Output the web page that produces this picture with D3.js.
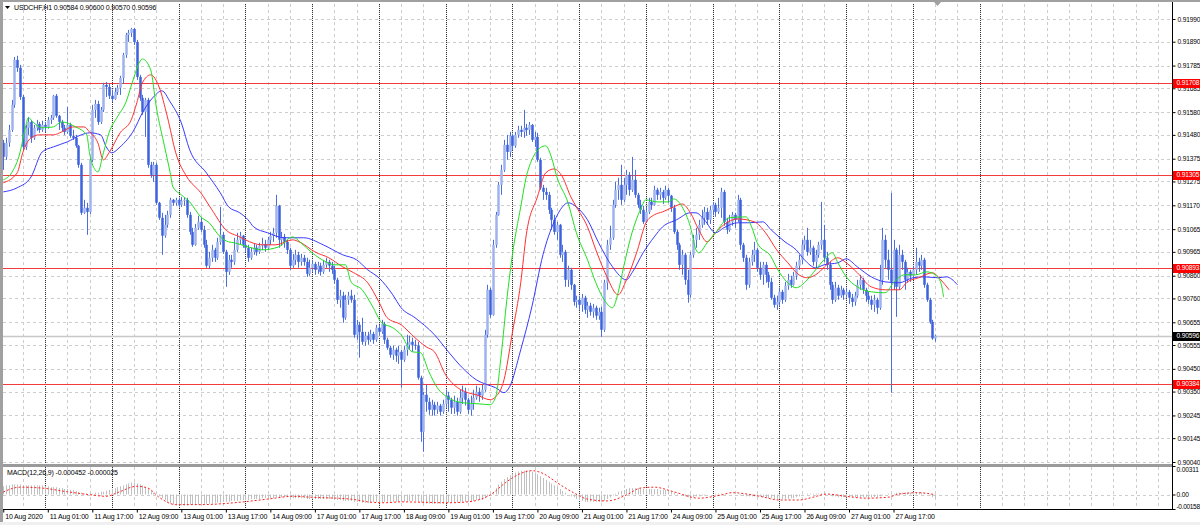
<!DOCTYPE html>
<html><head><meta charset="utf-8">
<script src="https://cdn.jsdelivr.net/npm/d3@7"></script>
<style>
html,body{margin:0;padding:0;background:#fff;}
svg{display:block;font-family:"Liberation Sans",Arial,sans-serif;}
</style></head><body>
<svg id="chart" width="1200" height="525"></svg>
<script>
const symbolTitle = "USDCHF,H1";
const lastOHLC = ["0.90584","0.90600","0.90570","0.90596"];
const macdTitle = "MACD(12,26,9) -0.000452 -0.000025";

const opens = [0.91445,0.91383,0.91445,0.91502,0.91612,0.91810,0.91775,0.91647,0.91427,0.91511,
0.91537,0.91467,0.91511,0.91528,0.91502,0.91524,0.91515,0.91546,0.91555,0.91652,
0.91564,0.91537,0.91511,0.91493,0.91524,0.91476,0.91467,0.91432,0.91348,0.91137,
0.91159,0.91141,0.91370,0.91590,0.91616,0.91537,0.91590,0.91700,0.91691,0.91652,
0.91638,0.91669,0.91687,0.91731,0.91832,0.91920,0.91929,0.91946,0.91889,0.91735,
0.91643,0.91581,0.91634,0.91348,0.91304,0.91348,0.91181,0.91115,0.91036,0.91084,
0.91128,0.91194,0.91181,0.91194,0.91172,0.91190,0.91194,0.91128,0.91053,0.90996,
0.91071,0.91097,0.91062,0.90996,0.90904,0.90939,0.90974,0.90939,0.91009,0.91040,
0.90965,0.90877,0.90930,0.90921,0.90974,0.91018,0.91036,0.90996,0.90983,0.90939,
0.90965,0.90983,0.90965,0.90992,0.91000,0.90983,0.91018,0.91036,0.91049,0.91168,
0.91018,0.91031,0.91009,0.90974,0.90904,0.90930,0.90952,0.90921,0.90939,0.90921,
0.90868,0.90895,0.90912,0.90886,0.90904,0.90877,0.90908,0.90921,0.90904,0.90886,
0.90842,0.90754,0.90772,0.90675,0.90754,0.90772,0.90754,0.90600,0.90644,0.90613,
0.90569,0.90596,0.90578,0.90604,0.90578,0.90631,0.90613,0.90648,0.90578,0.90543,
0.90512,0.90534,0.90508,0.90525,0.90490,0.90534,0.90556,0.90569,0.90556,0.90552,
0.90411,0.90173,0.90336,0.90305,0.90270,0.90292,0.90270,0.90288,0.90261,0.90296,
0.90332,0.90314,0.90279,0.90305,0.90261,0.90323,0.90349,0.90314,0.90270,0.90296,
0.90323,0.90349,0.90332,0.90358,0.90600,0.90798,0.90688,0.90996,0.91128,0.91260,
0.91326,0.91436,0.91405,0.91476,0.91432,0.91480,0.91502,0.91493,0.91511,0.91502,
0.91524,0.91458,0.91471,0.91370,0.91247,0.91229,0.91216,0.91150,0.91106,0.91053,
0.91084,0.90952,0.90965,0.90842,0.90886,0.90820,0.90745,0.90754,0.90732,0.90763,
0.90710,0.90728,0.90701,0.90719,0.90684,0.90701,0.90622,0.90829,0.90996,0.91027,
0.91172,0.91238,0.91260,0.91194,0.91260,0.91304,0.91238,0.91282,0.91216,0.91172,
0.91150,0.91097,0.91141,0.91185,0.91172,0.91238,0.91216,0.91229,0.91203,0.91238,
0.91212,0.91159,0.91053,0.90996,0.90908,0.90952,0.90842,0.90776,0.90952,0.91018,
0.91040,0.91084,0.91115,0.91141,0.91106,0.91150,0.91172,0.91141,0.91159,0.91229,
0.91097,0.91062,0.91097,0.91128,0.91106,0.91194,0.90996,0.90939,0.90820,0.90921,
0.90952,0.90974,0.90895,0.90864,0.90908,0.90864,0.90833,0.90763,0.90732,0.90745,
0.90789,0.90754,0.90816,0.90842,0.90820,0.90860,0.90904,0.90930,0.90996,0.91018,
0.90965,0.90983,0.90921,0.90952,0.90996,0.91018,0.90939,0.90908,0.90820,0.90754,
0.90807,0.90772,0.90798,0.90776,0.90789,0.90763,0.90745,0.90772,0.90820,0.90842,
0.90798,0.90772,0.90754,0.90732,0.90754,0.90719,0.90842,0.91018,0.90930,0.90886,
0.90833,0.90974,0.90811,0.90952,0.90921,0.90842,0.90877,0.90860,0.90886,0.90921,
0.90904,0.90930,0.90820,0.90754,0.90657,0.90584];

const highs = [0.91458,0.91467,0.91524,0.91634,0.91823,0.91828,0.91788,0.91656,0.91524,0.91559,
0.91546,0.91524,0.91546,0.91537,0.91542,0.91537,0.91559,0.91568,0.91656,0.91660,
0.91568,0.91546,0.91524,0.91603,0.91533,0.91502,0.91480,0.91436,0.91357,0.91194,
0.91181,0.91379,0.91612,0.91634,0.91630,0.91603,0.91709,0.91713,0.91704,0.91678,
0.91687,0.91700,0.91740,0.91841,0.91929,0.91942,0.91951,0.91951,0.91898,0.91744,
0.91656,0.91643,0.91643,0.91361,0.91361,0.91357,0.91185,0.91137,0.91128,0.91146,
0.91203,0.91198,0.91203,0.91203,0.91207,0.91203,0.91203,0.91141,0.91071,0.91088,
0.91124,0.91115,0.91080,0.91018,0.90965,0.90996,0.90983,0.91027,0.91163,0.91053,
0.90974,0.90952,0.90952,0.91027,0.91049,0.91053,0.91040,0.91018,0.90996,0.90983,
0.91000,0.90996,0.91005,0.91027,0.91018,0.91031,0.91053,0.91071,0.91216,0.91172,
0.91053,0.91044,0.91018,0.90983,0.90956,0.90974,0.90965,0.90956,0.90952,0.90939,
0.90930,0.90930,0.90921,0.90921,0.90917,0.90930,0.90939,0.90930,0.90921,0.90904,
0.90851,0.90798,0.90789,0.90776,0.90789,0.90798,0.90776,0.90666,0.90657,0.90675,
0.90613,0.90613,0.90622,0.90613,0.90644,0.90644,0.90666,0.90657,0.90587,0.90552,
0.90552,0.90543,0.90552,0.90534,0.90552,0.90600,0.90596,0.90587,0.90578,0.90569,
0.90420,0.90349,0.90380,0.90323,0.90314,0.90305,0.90305,0.90296,0.90314,0.90358,
0.90349,0.90323,0.90332,0.90323,0.90358,0.90376,0.90367,0.90323,0.90332,0.90358,
0.90376,0.90367,0.90380,0.90622,0.90820,0.90807,0.91018,0.91141,0.91273,0.91348,
0.91458,0.91480,0.91493,0.91485,0.91493,0.91520,0.91520,0.91590,0.91528,0.91537,
0.91528,0.91493,0.91489,0.91379,0.91260,0.91247,0.91229,0.91159,0.91128,0.91097,
0.91088,0.90996,0.90974,0.90904,0.90895,0.90824,0.90772,0.90772,0.90780,0.90772,
0.90745,0.90741,0.90736,0.90728,0.90719,0.90723,0.90842,0.91018,0.91080,0.91194,
0.91273,0.91291,0.91348,0.91291,0.91326,0.91317,0.91383,0.91326,0.91225,0.91194,
0.91168,0.91163,0.91203,0.91203,0.91256,0.91247,0.91247,0.91238,0.91256,0.91247,
0.91216,0.91172,0.91062,0.91005,0.90974,0.90961,0.90886,0.90965,0.91040,0.91071,
0.91106,0.91150,0.91163,0.91159,0.91168,0.91185,0.91181,0.91203,0.91247,0.91238,
0.91115,0.91128,0.91141,0.91137,0.91216,0.91203,0.91005,0.90952,0.90939,0.90974,
0.91009,0.90983,0.90921,0.90921,0.90921,0.90877,0.90851,0.90776,0.90772,0.90807,
0.90798,0.90833,0.90868,0.90860,0.90877,0.90921,0.90952,0.91018,0.91036,0.91071,
0.91018,0.90992,0.90974,0.91009,0.91185,0.91084,0.90965,0.90921,0.90833,0.90833,
0.90820,0.90816,0.90807,0.90807,0.90798,0.90780,0.90789,0.90842,0.90864,0.90851,
0.90807,0.90789,0.90772,0.90776,0.90763,0.90908,0.91071,0.91040,0.90974,0.91225,
0.91018,0.90983,0.90996,0.90974,0.90930,0.90895,0.90886,0.90904,0.90983,0.90939,
0.90952,0.90939,0.90829,0.90763,0.90666,0.90600];

const lows = [0.91326,0.91370,0.91427,0.91493,0.91599,0.91757,0.91634,0.91414,0.91414,0.91480,
0.91445,0.91458,0.91498,0.91489,0.91493,0.91493,0.91507,0.91528,0.91546,0.91555,
0.91502,0.91493,0.91480,0.91485,0.91467,0.91458,0.91423,0.91335,0.91128,0.91132,
0.91040,0.91132,0.91361,0.91555,0.91524,0.91528,0.91581,0.91647,0.91638,0.91625,
0.91634,0.91656,0.91656,0.91704,0.91819,0.91889,0.91911,0.91876,0.91722,0.91630,
0.91568,0.91471,0.91335,0.91291,0.91273,0.91172,0.91106,0.90952,0.91027,0.91071,
0.91115,0.91168,0.91168,0.91159,0.91163,0.91168,0.91115,0.91040,0.90987,0.90992,
0.91062,0.91053,0.90983,0.90895,0.90891,0.90921,0.90921,0.90930,0.90996,0.90956,
0.90811,0.90864,0.90895,0.90908,0.90965,0.90996,0.90983,0.90965,0.90921,0.90930,
0.90952,0.90948,0.90956,0.90974,0.90965,0.90974,0.90996,0.91009,0.91027,0.90983,
0.90992,0.90983,0.90956,0.90886,0.90895,0.90908,0.90895,0.90904,0.90904,0.90855,
0.90860,0.90877,0.90864,0.90868,0.90860,0.90868,0.90895,0.90877,0.90868,0.90824,
0.90736,0.90719,0.90653,0.90666,0.90732,0.90741,0.90587,0.90578,0.90499,0.90556,
0.90552,0.90556,0.90569,0.90560,0.90569,0.90596,0.90604,0.90560,0.90534,0.90499,
0.90490,0.90481,0.90472,0.90367,0.90481,0.90508,0.90534,0.90525,0.90534,0.90402,
0.90129,0.90085,0.90261,0.90248,0.90244,0.90244,0.90252,0.90244,0.90252,0.90279,
0.90261,0.90252,0.90252,0.90244,0.90252,0.90296,0.90288,0.90252,0.90244,0.90270,
0.90314,0.90305,0.90314,0.90349,0.90587,0.90675,0.90684,0.90983,0.91124,0.91216,
0.91317,0.91370,0.91383,0.91414,0.91423,0.91467,0.91471,0.91467,0.91476,0.91480,
0.91449,0.91427,0.91361,0.91238,0.91194,0.91194,0.91132,0.91062,0.91040,0.91018,
0.90939,0.90921,0.90811,0.90811,0.90798,0.90728,0.90719,0.90710,0.90701,0.90692,
0.90675,0.90684,0.90675,0.90666,0.90666,0.90591,0.90613,0.90798,0.90974,0.91018,
0.91159,0.91194,0.91172,0.91185,0.91216,0.91212,0.91229,0.91203,0.91159,0.91132,
0.91088,0.91093,0.91132,0.91150,0.91168,0.91194,0.91194,0.91176,0.91194,0.91181,
0.91141,0.91044,0.90974,0.90886,0.90864,0.90820,0.90741,0.90763,0.90939,0.90983,
0.91018,0.91071,0.91084,0.91084,0.91088,0.91128,0.91119,0.91132,0.91115,0.91080,
0.91044,0.91053,0.91080,0.91071,0.91097,0.90974,0.90921,0.90798,0.90807,0.90904,
0.90921,0.90877,0.90842,0.90820,0.90829,0.90807,0.90754,0.90719,0.90710,0.90728,
0.90736,0.90745,0.90798,0.90807,0.90816,0.90842,0.90886,0.90912,0.90974,0.90948,
0.90952,0.90904,0.90895,0.90939,0.90974,0.90921,0.90886,0.90798,0.90736,0.90745,
0.90754,0.90763,0.90754,0.90763,0.90736,0.90723,0.90728,0.90763,0.90798,0.90780,
0.90745,0.90736,0.90710,0.90701,0.90692,0.90710,0.90820,0.90895,0.90842,0.90345,
0.90798,0.90679,0.90798,0.90886,0.90798,0.90829,0.90833,0.90842,0.90864,0.90877,
0.90886,0.90807,0.90745,0.90648,0.90578,0.90570];

const closes = [0.91383,0.91445,0.91502,0.91612,0.91810,0.91775,0.91647,0.91427,0.91511,0.91537,
0.91467,0.91511,0.91528,0.91502,0.91524,0.91515,0.91546,0.91555,0.91652,0.91564,
0.91537,0.91511,0.91493,0.91524,0.91476,0.91467,0.91432,0.91348,0.91137,0.91159,
0.91141,0.91370,0.91590,0.91616,0.91537,0.91590,0.91700,0.91691,0.91652,0.91638,
0.91669,0.91687,0.91731,0.91832,0.91920,0.91929,0.91946,0.91889,0.91735,0.91643,
0.91581,0.91634,0.91348,0.91304,0.91348,0.91181,0.91115,0.91036,0.91084,0.91128,
0.91194,0.91181,0.91194,0.91172,0.91190,0.91194,0.91128,0.91053,0.90996,0.91071,
0.91097,0.91062,0.90996,0.90904,0.90939,0.90974,0.90939,0.91009,0.91040,0.90965,
0.90877,0.90930,0.90921,0.90974,0.91018,0.91036,0.90996,0.90983,0.90939,0.90965,
0.90983,0.90965,0.90992,0.91000,0.90983,0.91018,0.91036,0.91049,0.91168,0.91018,
0.91031,0.91009,0.90974,0.90904,0.90930,0.90952,0.90921,0.90939,0.90921,0.90868,
0.90895,0.90912,0.90886,0.90904,0.90877,0.90908,0.90921,0.90904,0.90886,0.90842,
0.90754,0.90772,0.90675,0.90754,0.90772,0.90754,0.90600,0.90644,0.90613,0.90569,
0.90596,0.90578,0.90604,0.90578,0.90631,0.90613,0.90648,0.90578,0.90543,0.90512,
0.90534,0.90508,0.90525,0.90490,0.90534,0.90556,0.90569,0.90556,0.90552,0.90411,
0.90173,0.90336,0.90305,0.90270,0.90292,0.90270,0.90288,0.90261,0.90296,0.90332,
0.90314,0.90279,0.90305,0.90261,0.90323,0.90349,0.90314,0.90270,0.90296,0.90323,
0.90349,0.90332,0.90358,0.90600,0.90798,0.90688,0.90996,0.91128,0.91260,0.91326,
0.91436,0.91405,0.91476,0.91432,0.91480,0.91502,0.91493,0.91511,0.91502,0.91524,
0.91458,0.91471,0.91370,0.91247,0.91229,0.91216,0.91150,0.91106,0.91053,0.91084,
0.90952,0.90965,0.90842,0.90886,0.90820,0.90745,0.90754,0.90732,0.90763,0.90710,
0.90728,0.90701,0.90719,0.90684,0.90701,0.90622,0.90829,0.90996,0.91027,0.91172,
0.91238,0.91260,0.91194,0.91260,0.91304,0.91238,0.91282,0.91216,0.91172,0.91150,
0.91097,0.91141,0.91185,0.91172,0.91238,0.91216,0.91229,0.91203,0.91238,0.91212,
0.91159,0.91053,0.90996,0.90908,0.90952,0.90842,0.90776,0.90952,0.91018,0.91040,
0.91084,0.91115,0.91141,0.91106,0.91150,0.91172,0.91141,0.91159,0.91229,0.91097,
0.91062,0.91097,0.91128,0.91106,0.91194,0.90996,0.90939,0.90820,0.90921,0.90952,
0.90974,0.90895,0.90864,0.90908,0.90864,0.90833,0.90763,0.90732,0.90745,0.90789,
0.90754,0.90816,0.90842,0.90820,0.90860,0.90904,0.90930,0.90996,0.91018,0.90965,
0.90983,0.90921,0.90952,0.90996,0.91018,0.90939,0.90908,0.90820,0.90754,0.90807,
0.90772,0.90798,0.90776,0.90789,0.90763,0.90745,0.90772,0.90820,0.90842,0.90798,
0.90772,0.90754,0.90732,0.90754,0.90719,0.90842,0.91018,0.90930,0.90886,0.90833,
0.90974,0.90811,0.90952,0.90921,0.90842,0.90877,0.90860,0.90886,0.90921,0.90904,
0.90930,0.90820,0.90754,0.90657,0.90584,0.90596];

// Alligator lines (sampled: bar index, price)
const jawIdx = [0,5,10,14,18,23,28,31,35,37,39,42,47,50,54,57,60,64,67,73,78,81,85,88,90,95,101,108,115,122,127,131,135,140,143,148,155,160,165,170,174,177,180,182,186,190,194,198,201,203,206,210,214,219,224,226,230,234,237,242,247,249,252,256,259,264,268,273,276,281,285,288,292,295,300,303,307,312,317,322,327,331,336,339,343];
const jawVal = [0.91229,0.91247,0.91295,0.91405,0.91427,0.91449,0.91480,0.91489,0.91480,0.91427,0.91401,0.91427,0.91502,0.91577,0.91647,0.91674,0.91625,0.91533,0.91414,0.91313,0.91225,0.91163,0.91137,0.91106,0.91075,0.91049,0.91027,0.91027,0.90996,0.90952,0.90930,0.90886,0.90851,0.90776,0.90719,0.90675,0.90600,0.90525,0.90455,0.90402,0.90380,0.90367,0.90345,0.90371,0.90534,0.90723,0.90952,0.91097,0.91163,0.91181,0.91163,0.91106,0.91005,0.90899,0.90842,0.90873,0.90961,0.91031,0.91075,0.91106,0.91137,0.91137,0.91106,0.91049,0.91071,0.91093,0.91093,0.91097,0.91062,0.91009,0.90974,0.90930,0.90895,0.90908,0.90917,0.90934,0.90899,0.90855,0.90833,0.90829,0.90851,0.90855,0.90851,0.90855,0.90820];
const teethIdx = [0,5,7,10,13,18,21,25,29,31,34,36,38,42,46,48,50,53,56,59,62,66,71,75,80,85,87,93,98,104,107,112,117,122,126,131,135,138,143,148,152,155,159,162,167,170,175,177,180,183,186,188,192,195,198,201,204,206,210,213,217,221,224,228,231,234,237,241,244,247,250,253,256,259,264,270,274,278,282,286,289,293,296,300,303,307,312,317,322,325,329,334,337,340];
const teethVal = [0.91269,0.91313,0.91401,0.91467,0.91480,0.91480,0.91493,0.91515,0.91515,0.91493,0.91445,0.91370,0.91401,0.91489,0.91546,0.91621,0.91709,0.91744,0.91691,0.91559,0.91401,0.91295,0.91225,0.91150,0.91062,0.91031,0.91018,0.90996,0.90996,0.91018,0.91005,0.90965,0.90939,0.90899,0.90873,0.90829,0.90745,0.90675,0.90644,0.90587,0.90547,0.90525,0.90424,0.90380,0.90345,0.90336,0.90314,0.90327,0.90402,0.90609,0.90829,0.91040,0.91207,0.91313,0.91330,0.91295,0.91207,0.91163,0.91075,0.90974,0.90855,0.90776,0.90842,0.90974,0.91093,0.91128,0.91141,0.91163,0.91176,0.91137,0.91062,0.91009,0.91049,0.91084,0.91110,0.91097,0.91049,0.90974,0.90917,0.90864,0.90851,0.90873,0.90908,0.90939,0.90917,0.90873,0.90811,0.90798,0.90798,0.90833,0.90851,0.90873,0.90842,0.90798];
const lipsIdx = [0,3,6,8,9,11,14,18,21,26,30,31,33,34,36,38,41,44,47,49,50,53,55,58,60,61,64,67,71,74,78,81,83,88,93,99,104,107,111,116,119,123,125,129,133,136,140,143,147,150,153,156,160,165,171,175,177,179,181,183,186,188,190,193,195,197,199,203,206,210,213,216,219,221,223,226,229,231,235,239,241,244,247,249,250,253,256,261,267,269,271,276,278,282,285,289,292,295,298,300,303,307,312,317,320,324,328,332,335,337,338];
const lipsVal = [0.91282,0.91313,0.91401,0.91515,0.91555,0.91533,0.91511,0.91515,0.91537,0.91515,0.91480,0.91401,0.91326,0.91317,0.91401,0.91489,0.91559,0.91621,0.91735,0.91801,0.91814,0.91766,0.91603,0.91427,0.91313,0.91251,0.91216,0.91185,0.91119,0.91093,0.91031,0.91009,0.91005,0.90987,0.90974,0.90987,0.91031,0.91005,0.90961,0.90921,0.90908,0.90908,0.90833,0.90798,0.90719,0.90653,0.90631,0.90600,0.90525,0.90521,0.90437,0.90367,0.90323,0.90301,0.90296,0.90292,0.90327,0.90512,0.90754,0.90952,0.91163,0.91295,0.91370,0.91423,0.91432,0.91383,0.91295,0.91181,0.91049,0.90930,0.90829,0.90754,0.90719,0.90785,0.90899,0.91049,0.91150,0.91194,0.91185,0.91185,0.91198,0.91163,0.91075,0.90974,0.90961,0.91005,0.91049,0.91115,0.91119,0.91075,0.91005,0.90943,0.90895,0.90829,0.90807,0.90842,0.90886,0.90930,0.90961,0.90917,0.90855,0.90811,0.90789,0.90785,0.90829,0.90864,0.90864,0.90877,0.90864,0.90829,0.90767];

// MACD main (histogram) per bar and signal (sampled)
const macdMain = [0.0009,0.0010,0.0010,0.0011,0.0011,0.0011,0.0011,0.0010,0.0010,0.0010,
0.0010,0.0010,0.0010,0.0010,0.0010,0.0009,0.0009,0.0008,0.0008,0.0008,
0.0007,0.0007,0.0006,0.0006,0.0005,0.0005,0.0004,0.0003,0.0002,0.0001,
0,0,0.0001,0.0002,0.0002,0.0003,0.0003,0.0004,0.0005,0.0006,
0.0007,0.0008,0.0009,0.0010,0.0011,0.0012,0.0013,0.0013,0.0012,0.0011,
0.0010,0.0008,0.0006,0.0004,0.0002,0,-0.0002,-0.0004,-0.0006,-0.0008,
-0.0010,-0.0011,-0.0012,-0.0012,-0.0012,-0.0012,-0.0012,-0.0011,-0.0011,-0.0011,
-0.0011,-0.0011,-0.0010,-0.0010,-0.0010,-0.0010,-0.0009,-0.0009,-0.0009,-0.0008,
-0.0008,-0.0008,-0.0007,-0.0007,-0.0007,-0.0006,-0.0006,-0.0006,-0.0006,-0.0005,
-0.0005,-0.0005,-0.0005,-0.0004,-0.0004,-0.0004,-0.0004,-0.0004,-0.0003,-0.0003,
-0.0003,-0.0003,-0.0003,-0.0004,-0.0004,-0.0004,-0.0004,-0.0004,-0.0004,-0.0005,
-0.0005,-0.0005,-0.0005,-0.0005,-0.0005,-0.0005,-0.0005,-0.0005,-0.0005,-0.0006,
-0.0006,-0.0006,-0.0007,-0.0007,-0.0007,-0.0007,-0.0008,-0.0008,-0.0008,-0.0009,
-0.0009,-0.0009,-0.0009,-0.0008,-0.0008,-0.0008,-0.0008,-0.0008,-0.0008,-0.0008,
-0.0008,-0.0008,-0.0008,-0.0008,-0.0008,-0.0007,-0.0007,-0.0007,-0.0007,-0.0008,
-0.0009,-0.0010,-0.0010,-0.0010,-0.0010,-0.0010,-0.0010,-0.0010,-0.0010,-0.0009,
-0.0009,-0.0009,-0.0009,-0.0009,-0.0008,-0.0008,-0.0008,-0.0008,-0.0007,-0.0007,
-0.0006,-0.0006,-0.0006,-0.0004,-0.0002,0,0.0003,0.0007,0.0011,0.0014,
0.0017,0.0019,0.0021,0.0023,0.0024,0.0025,0.0026,0.0026,0.0026,0.0026,
0.0025,0.0024,0.0022,0.0020,0.0018,0.0016,0.0014,0.0012,0.0010,0.0008,
0.0006,0.0004,0.0002,0,-0.0002,-0.0003,-0.0005,-0.0006,-0.0007,-0.0008,
-0.0008,-0.0008,-0.0008,-0.0008,-0.0008,-0.0008,-0.0007,-0.0005,-0.0003,-0.0001,
0.0001,0.0003,0.0004,0.0005,0.0006,0.0007,0.0007,0.0007,0.0007,0.0007,
0.0006,0.0006,0.0006,0.0006,0.0006,0.0006,0.0005,0.0005,0.0005,0.0004,
0.0003,0.0002,0.0001,0,-0.0001,-0.0002,-0.0003,-0.0003,-0.0003,-0.0002,
-0.0002,-0.0001,-0.0001,0,0,0,0.0001,0.0001,0.0001,0,
0,0,0,0,0,-0.0001,-0.0001,-0.0002,-0.0002,-0.0002,
-0.0002,-0.0002,-0.0002,-0.0003,-0.0003,-0.0004,-0.0004,-0.0005,-0.0005,-0.0005,
-0.0005,-0.0005,-0.0005,-0.0004,-0.0004,-0.0003,-0.0002,-0.0001,0,0.0001,
0.0001,0.0001,0.0001,0.0001,0.0001,0.0001,0,-0.0001,-0.0002,-0.0002,
-0.0003,-0.0003,-0.0003,-0.0003,-0.0003,-0.0003,-0.0003,-0.0003,-0.0003,-0.0003,
-0.0003,-0.0003,-0.0003,-0.0003,-0.0003,-0.0002,-0.0001,0,0.0001,0.0001,
0.0001,0.0002,0.0002,0.0002,0.0002,0.0002,0.0002,0.0002,0.0002,0.0002,
0.0002,0.0001,0,-0.0001,-0.0003,-0.000452];
const sigIdx = [0,6,14,23,32,37,41,48,52,56,62,71,83,95,104,111,125,131,137,143,160,167,175,181,186,190,194,199,205,210,217,224,229,234,241,250,258,262,272,279,286,291,296,303,310,318,322,329,335];
const sigVal = [0.00027,0.0008,0.0007,0.0003,-0.00005,-0.0002,0.0002,0.0009,0.0007,-0.0003,-0.0011,-0.0011,-0.0009,-0.0005,-0.0002,-0.0003,-0.0005,-0.0008,-0.0009,-0.0008,-0.0009,-0.0008,-0.00005,0.0014,0.0023,0.0026,0.0023,0.0013,0.0002,-0.0005,-0.0007,-0.00005,0.0007,0.0008,0.0003,-0.0004,-0.00005,0.0002,-0.0002,-0.0006,-0.0006,-0.0003,0.00005,-0.0002,-0.0004,-0.0003,0.00005,0.0002,-0.000025];

// Axis ticks and labels
const priceTicks = [0.91990,0.91890,0.91785,0.91685,0.91580,0.91480,0.91375,0.91275,0.91170,0.91065,0.90965,0.90860,0.90760,0.90655,0.90555,0.90450,0.90350,0.90245,0.90145,0.90040];
const macdTicks = [0.00311,0,-0.00158];
const macdTickLabels = ["0.00311","0.00","-0.00158"];
const timeTickIdx = [0,16,32,48,64,80,96,112,128,144,160,176,192,208,224,240,256,272,288,304,320];
const timeTickLabels = ["10 Aug 2020","11 Aug 01:00","11 Aug 17:00","12 Aug 09:00","13 Aug 01:00","13 Aug 17:00","14 Aug 09:00","17 Aug 01:00","17 Aug 17:00","18 Aug 09:00","19 Aug 01:00","19 Aug 17:00","20 Aug 09:00","21 Aug 01:00","21 Aug 17:00","24 Aug 09:00","25 Aug 01:00","25 Aug 17:00","26 Aug 09:00","27 Aug 01:00","27 Aug 17:00"];
const levelLines = [0.91708,0.91305,0.90893,0.90384];
const levelLabels = ["0.91708","0.91305","0.90893","0.90384"];
const bidPrice = 0.90596;
const bidLabel = "0.90596";

// ---------- drawing ----------
const FONT = "Liberation Sans, Arial, sans-serif";
const svg = d3.select("#chart");
const L = 3, R = 1172, mT = 4, mB = 464, dT = 467, dB = 509;
const x = d3.scaleLinear().domain([0, 100]).range([3.27, 3.27 + 278.2]);
const y = d3.scaleLinear().domain([0.90040, 0.91990]).range([462, 19]);
const ym = d3.scaleLinear().domain([-0.00158, 0.00311]).range([dB, dT - 1]);
const maxIdx = Math.floor(x.invert(R));

function styleText(sel, size){
  return sel.attr("font-size", size || 6.6).attr("fill","#000").attr("font-family",FONT).attr("letter-spacing","-0.15px");
}

svg.append("rect").attr("width",1200).attr("height",525).attr("fill","#fff");
svg.append("rect").attr("x",0).attr("y",0).attr("width",3).attr("height",525).attr("fill","#a0a0a0");
svg.append("rect").attr("x",0).attr("y",0).attr("width",1200).attr("height",2).attr("fill","#a0a0a0");
svg.append("rect").attr("x",0).attr("y",522).attr("width",1200).attr("height",3).attr("fill","#f0f0f0");

const defs = svg.append("defs");
defs.append("clipPath").attr("id","cm").append("rect").attr("x",L).attr("y",mT).attr("width",R-L).attr("height",mB-mT);
defs.append("clipPath").attr("id","cd").append("rect").attr("x",L).attr("y",dT).attr("width",R-L).attr("height",dB-dT);

const grid = svg.append("g");
grid.selectAll("line.hg").data(priceTicks).enter().append("line")
  .attr("x1",L).attr("x2",R).attr("y1",d=>Math.round(y(d))+0.5).attr("y2",d=>Math.round(y(d))+0.5)
  .attr("stroke","#cdcdcd").attr("stroke-dasharray","3,3");
grid.append("line").attr("x1",L).attr("x2",R).attr("y1",Math.round(ym(0))+0.5).attr("y2",Math.round(ym(0))+0.5)
  .attr("stroke","#cdcdcd").attr("stroke-dasharray","3,3");
const vIdx = d3.range(7, maxIdx+1, 8);
[[mT,mB],[dT,dB]].forEach(([a,b])=>{
  grid.selectAll(null).data(vIdx).enter().append("line")
    .attr("x1",d=>Math.round(x(d))+0.5).attr("x2",d=>Math.round(x(d))+0.5).attr("y1",a).attr("y2",b)
    .attr("stroke","#cdcdcd").attr("stroke-dasharray","3,3");
});
const sepIdx = d3.range(15, 352, 24);
[[mT,mB],[dT,dB]].forEach(([a,b])=>{
  grid.selectAll(null).data(sepIdx).enter().append("line")
    .attr("x1",d=>Math.round(x(d))+0.5).attr("x2",d=>Math.round(x(d))+0.5).attr("y1",a).attr("y2",b)
    .attr("stroke","#333").attr("stroke-dasharray","1,1");
});

const main = svg.append("g").attr("clip-path","url(#cm)");
main.append("line").attr("x1",L).attr("x2",R).attr("y1",Math.round(y(bidPrice))+0.5).attr("y2",Math.round(y(bidPrice))+0.5)
  .attr("stroke","#c8c8c8").attr("stroke-width",1.5);
main.selectAll("line.lv").data(levelLines).enter().append("line")
  .attr("x1",L).attr("x2",R).attr("y1",d=>Math.round(y(d))+0.5).attr("y2",d=>Math.round(y(d))+0.5)
  .attr("stroke","#f03c3c").attr("stroke-width",1.2);

// candles
const bars = d3.range(closes.length).map(i=>({i,o:opens[i],h:highs[i],l:lows[i],c:closes[i]}));
const cg = main.append("g");
cg.selectAll("line.w").data(bars).enter().append("line")
  .attr("x1",d=>Math.round(x(d.i))+0.5).attr("x2",d=>Math.round(x(d.i))+0.5)
  .attr("y1",d=>y(d.h)).attr("y2",d=>y(d.l)).attr("stroke","#4a6ee0").attr("stroke-width",1);
cg.selectAll("rect.b").data(bars).enter().append("rect")
  .attr("x",d=>Math.round(x(d.i))-0.75).attr("width",2.5)
  .attr("y",d=>y(Math.max(d.o,d.c))).attr("height",d=>Math.max(1,Math.abs(y(d.o)-y(d.c))))
  .attr("fill",d=>d.c>=d.o?"#9fb3ee":"#3c62dc");

// alligator
const lineGen = d3.line().x(d=>x(d[0])).y(d=>y(d[1])).curve(d3.curveMonotoneX);
const jaw = jawIdx.map((v,k)=>[v,jawVal[k]]);
const teeth = teethIdx.map((v,k)=>[v,teethVal[k]]);
const lips = lipsIdx.map((v,k)=>[v,lipsVal[k]]);
main.append("path").attr("d",lineGen(jaw)).attr("fill","none").attr("stroke","#3a3aff").attr("stroke-width",1);
main.append("path").attr("d",lineGen(teeth)).attr("fill","none").attr("stroke","#ff3030").attr("stroke-width",1);
main.append("path").attr("d",lineGen(lips)).attr("fill","none").attr("stroke","#20e020").attr("stroke-width",1);

// MACD
const mg = svg.append("g").attr("clip-path","url(#cd)");
mg.selectAll("line.h").data(macdMain.map((v,i)=>[i,v])).enter().append("line")
  .attr("x1",d=>Math.round(x(d[0]))+0.5).attr("x2",d=>Math.round(x(d[0]))+0.5)
  .attr("y1",ym(0)).attr("y2",d=>ym(d[1])).attr("stroke","#c0c0c0").attr("stroke-width",1);
const sigLine = d3.line().x(d=>x(d[0])).y(d=>ym(d[1])).curve(d3.curveMonotoneX);
mg.append("path").attr("d",sigLine(sigIdx.map((v,k)=>[v,sigVal[k]]))).attr("fill","none")
  .attr("stroke","#ff2020").attr("stroke-width",1).attr("stroke-dasharray","2,2");

// frame lines
svg.append("rect").attr("x",L).attr("y",mB).attr("width",R-L).attr("height",dT-mB).attr("fill","#9a9a9a");
svg.append("line").attr("x1",R+0.5).attr("x2",R+0.5).attr("y1",2).attr("y2",dB+1).attr("stroke","#000");
svg.append("line").attr("x1",L).attr("x2",R+1).attr("y1",dB+0.5).attr("y2",dB+0.5).attr("stroke","#000");

// price axis
const pa = svg.append("g").attr("transform",`translate(${R+0.5},0)`)
  .call(d3.axisRight(y).tickValues(priceTicks).tickFormat(d3.format(".5f")).tickSize(3).tickPadding(2));
pa.select(".domain").remove();
styleText(pa.selectAll("text"));
pa.selectAll("line").attr("stroke","#000");

const ma = svg.append("g").attr("transform",`translate(${R+0.5},0)`)
  .call(d3.axisRight(ym).tickValues(macdTicks).tickFormat((d,i)=>macdTickLabels[i]).tickSize(3).tickPadding(1));
ma.select(".domain").remove();
styleText(ma.selectAll("text"));
ma.selectAll(".tick").filter((d,i)=>i===0).select("text").attr("dy","0.9em");
ma.selectAll(".tick").filter((d,i)=>i===2).select("text").attr("dy","-0.1em").attr("letter-spacing","-0.35px");
ma.selectAll("line").attr("stroke","#000");

// level labels
const lvG = svg.append("g");
levelLines.forEach((v,k)=>{
  const yy = Math.round(y(v));
  lvG.append("rect").attr("x",R+1).attr("y",yy-4).attr("width",27).attr("height",9).attr("fill","#ff0000");
  styleText(lvG.append("text").attr("x",R+4.5).attr("y",yy).attr("dy","0.35em").text(levelLabels[k])).attr("fill","#fff");
});
{
  const yy = Math.round(y(bidPrice));
  lvG.append("rect").attr("x",R+1).attr("y",yy-4).attr("width",27).attr("height",9).attr("fill","#000");
  styleText(lvG.append("text").attr("x",R+4.5).attr("y",yy).attr("dy","0.35em").text(bidLabel)).attr("fill","#fff");
}

// time axis
const ta = svg.append("g").attr("transform",`translate(0,${dB+0.5})`)
  .call(d3.axisBottom(x).tickValues(timeTickIdx).tickFormat((d,i)=>timeTickLabels[i]).tickSize(3).tickPadding(1.5));
ta.select(".domain").remove();
ta.selectAll("line").attr("stroke","#000");
styleText(ta.selectAll("text"), 7);
ta.selectAll("text").attr("text-anchor","start").attr("dx","0.2em");

// titles
svg.append("path").attr("d","M5,6 L10,6 L7.5,9 Z").attr("fill","#000");
styleText(svg.append("text").attr("x",14).attr("y",10).text(symbolTitle + "  " + lastOHLC.join(" ")), 7);
styleText(svg.append("text").attr("x",7).attr("y",475).text(macdTitle), 7);
svg.append("path").attr("d","M934,2 L941,2 L937.5,6 Z").attr("fill","#a0a0a0");
</script>
</body></html>
